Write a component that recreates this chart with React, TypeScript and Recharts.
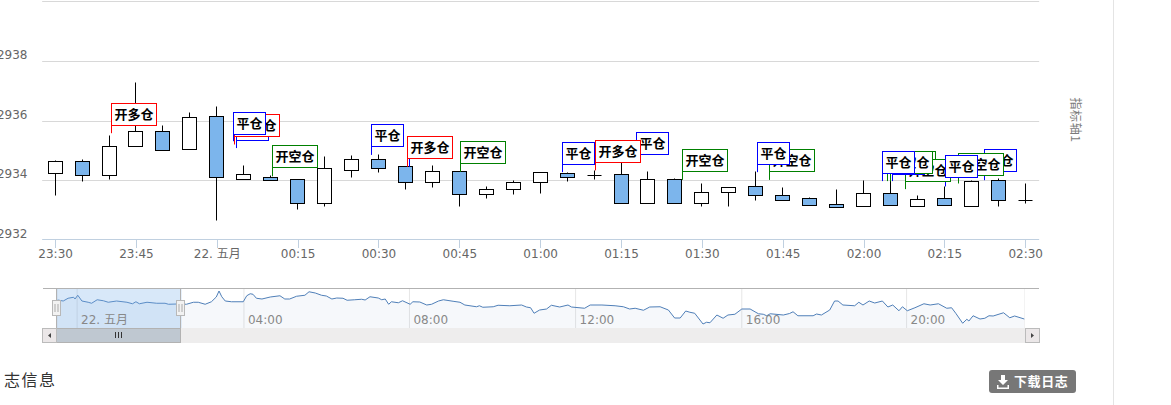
import React from "react";
import {
  Area,
  Bar,
  CartesianGrid,
  ComposedChart,
  ReferenceArea,
  ReferenceDot,
  ReferenceLine,
  XAxis,
  YAxis,
} from "recharts";

// ---- candle data (minutes since 23:30) ----
const candleMinutes = [0, 5, 10, 15, 20, 25, 30, 35, 40, 45, 50, 55, 60, 65, 70, 75, 80, 85, 90, 95, 100, 105, 110, 115, 120, 125, 130, 135, 140, 145, 150, 155, 160, 165, 170, 175, 180];
const opens = [2934.23, 2934.63, 2934.16, 2935.13, 2935.64, 2935.03, 2936.14, 2934.04, 2934.09, 2934.02, 2933.22, 2934.33, 2934.7, 2934.46, 2933.92, 2934.29, 2933.52, 2933.69, 2933.92, 2934.23, 2934.18, 2934.19, 2933.22, 2934.02, 2933.22, 2933.59, 2933.79, 2933.49, 2933.38, 2933.18, 2933.12, 2933.55, 2933.12, 2933.38, 2933.12, 2933.99, 2933.32];
const highs = [2934.66, 2934.7, 2935.51, 2937.29, 2935.84, 2936.29, 2936.49, 2934.5, 2934.16, 2934.02, 2934.81, 2934.84, 2934.87, 2934.46, 2934.5, 2934.29, 2933.79, 2934.0, 2934.26, 2934.26, 2934.34, 2934.59, 2934.3, 2934.06, 2933.89, 2933.77, 2934.3, 2933.75, 2933.42, 2933.7, 2934.0, 2934.17, 2933.49, 2933.8, 2933.99, 2934.06, 2933.89];
const lows = [2933.5, 2933.98, 2934.04, 2935.13, 2935.0, 2935.03, 2932.67, 2934.04, 2934.01, 2933.03, 2933.14, 2934.1, 2934.27, 2933.71, 2933.77, 2933.14, 2933.41, 2933.54, 2933.57, 2933.98, 2934.02, 2933.22, 2933.22, 2933.22, 2933.14, 2933.14, 2933.34, 2933.32, 2933.15, 2933.1, 2933.12, 2933.15, 2933.12, 2933.15, 2933.12, 2933.14, 2933.24];
const closes = [2934.63, 2934.16, 2935.13, 2935.64, 2935.0, 2936.11, 2934.09, 2934.19, 2934.01, 2933.22, 2934.39, 2934.7, 2934.39, 2933.92, 2934.29, 2933.52, 2933.69, 2933.92, 2934.26, 2934.11, 2934.18, 2933.22, 2934.02, 2933.22, 2933.59, 2933.77, 2933.49, 2933.32, 2933.15, 2933.1, 2933.55, 2933.15, 2933.35, 2933.15, 2933.96, 2933.32, 2933.32];

const xTickMinutes = [0, 15, 30, 45, 60, 75, 90, 105, 120, 135, 150, 165, 180];
const xTickLabels = ["23:30", "23:45", "22. 五月", "00:15", "00:30", "00:45", "01:00", "01:15", "01:30", "01:45", "02:00", "02:15", "02:30"];
const yTicks = [2932, 2934, 2936, 2938, 2940];

// ---- trade flags, in drawing order ----
const flagTexts = ["开多仓", "平仓", "开多仓", "平仓", "开空仓", "平仓", "平仓", "开多仓", "开空仓", "平仓", "平仓", "开多仓", "开空仓", "开空仓", "平仓", "开空仓", "开空仓", "平仓", "开空仓", "平仓", "平仓", "开空仓", "平仓"];
const flagMinutes = [10.4, 33.6, 33.2, 33.0, 40.3, 58.6, 65.7, 65.3, 75.2, 94.1, 107.8, 100.2, 116.4, 132.5, 130.3, 155.0, 157.7, 155.3, 154.4, 153.5, 172.4, 167.6, 165.2];
const flagPrices = [2935.59, 2935.09, 2935.21, 2935.32, 2934.14, 2934.86, 2934.46, 2934.46, 2934.29, 2934.28, 2934.64, 2934.34, 2934.02, 2934.02, 2934.28, 2933.97, 2933.71, 2933.98, 2933.98, 2933.98, 2934.01, 2933.9, 2933.8];
const flagLabelPrices = [2935.84, 2935.33, 2935.47, 2935.56, 2934.43, 2935.13, 2934.73, 2934.73, 2934.56, 2934.53, 2934.86, 2934.59, 2934.29, 2934.29, 2934.53, 2934.23, 2933.96, 2934.2, 2934.23, 2934.23, 2934.29, 2934.16, 2934.09];
const flagColors: Record<string, string> = { 开多仓: "#ff0000", 开空仓: "#008000", 平仓: "#0000ff" };

// ---- navigator series ----
const navMinutes = [1, 9, 16, 24, 26, 30, 36, 45, 50, 58, 67, 74, 86, 101, 109, 114, 119, 130, 144, 156, 161, 173, 187, 197, 204, 214, 223, 230, 234, 238, 243, 252, 269, 274, 279, 283, 288, 296, 308, 322, 329, 336, 346, 358, 364, 373, 382, 389, 397, 404, 413, 419, 430, 440, 445, 452, 464, 469, 474, 479, 483, 493, 499, 510, 514, 524, 534, 541, 551, 558, 572, 582, 589, 606, 610, 615, 630, 637, 654, 671, 678, 684, 689, 697, 707, 714, 726, 738, 743, 762, 770, 787, 806, 818, 827, 835, 847, 856, 871, 883, 892, 900, 908, 914, 921, 933, 938, 943, 953, 962, 969, 979, 989, 1001, 1013, 1020, 1025, 1030, 1049, 1058, 1063, 1070, 1092, 1097, 1104, 1116, 1123, 1128, 1135, 1152, 1158, 1164, 1173, 1181, 1192, 1200, 1207, 1216, 1221, 1228, 1239, 1252, 1261, 1273, 1285, 1292, 1298, 1308, 1314, 1317, 1323, 1333, 1340, 1346, 1352, 1367, 1376, 1383, 1397];
const navPrices = [2934.4, 2934.0, 2935.1, 2935.5, 2934.8, 2936.3, 2934.0, 2933.5, 2933.1, 2934.5, 2934.1, 2933.5, 2934.0, 2933.5, 2932.9, 2933.7, 2932.9, 2933.5, 2933.1, 2933.1, 2932.7, 2932.8, 2932.7, 2933.5, 2933.5, 2932.7, 2933.7, 2935.6, 2938.0, 2935.7, 2934.0, 2933.7, 2933.7, 2936.1, 2936.9, 2936.7, 2935.1, 2934.8, 2935.6, 2936.1, 2934.8, 2934.8, 2935.9, 2936.3, 2937.7, 2937.2, 2936.3, 2936.0, 2934.8, 2935.2, 2935.1, 2934.3, 2934.5, 2934.7, 2934.4, 2935.7, 2935.2, 2934.5, 2934.8, 2932.7, 2933.7, 2933.3, 2934.1, 2932.7, 2933.7, 2933.6, 2932.4, 2932.7, 2934.0, 2934.5, 2933.9, 2933.5, 2932.4, 2931.7, 2932.1, 2931.5, 2931.7, 2932.3, 2932.1, 2932.4, 2931.6, 2931.3, 2929.1, 2930.4, 2930.8, 2932.3, 2931.6, 2932.4, 2931.6, 2931.1, 2932.4, 2932.4, 2932.1, 2931.7, 2930.8, 2931.1, 2930.3, 2931.6, 2931.7, 2930.4, 2927.2, 2927.2, 2930.0, 2929.5, 2929.1, 2924.8, 2925.5, 2925.3, 2928.4, 2927.1, 2928.4, 2928.7, 2930.8, 2930.8, 2928.9, 2928.7, 2928.1, 2928.9, 2928.4, 2929.0, 2929.7, 2928.1, 2928.1, 2928.8, 2928.4, 2930.4, 2934.0, 2934.0, 2932.4, 2932.1, 2933.5, 2932.4, 2934.0, 2933.2, 2934.0, 2931.6, 2932.4, 2930.1, 2931.7, 2930.1, 2931.3, 2932.9, 2932.4, 2932.9, 2931.1, 2931.3, 2929.1, 2925.1, 2926.7, 2926.0, 2928.1, 2926.8, 2927.1, 2928.1, 2928.0, 2929.3, 2927.3, 2928.0, 2926.8];
const navTickMinutes = [29, 270, 509, 749, 989, 1227];
const navTickLabels = ["22. 五月", "04:00", "08:00", "12:00", "16:00", "20:00"];

const candleRows = candleMinutes.map((t, i) => ({ t, open: opens[i], high: highs[i], low: lows[i], close: closes[i] }));
const navRows = navMinutes.map((t, i) => ({ t, price: navPrices[i] }));

const AXIS_FONT = "'DejaVu Sans', sans-serif";
const CJK_FONT = "'Noto Sans CJK SC', sans-serif";
const crisp = (v: number) => Math.floor(v) + 0.5;

function Candle(props: any) {
  const { x, y, width, height, payload } = props;
  const { open, high, low, close } = payload;
  const cx = crisp(x + width / 2);
  const py = (p: number) => y + (height * (high - p)) / (high - low);
  const top = crisp(py(Math.max(open, close)));
  const bottom = crisp(py(Math.min(open, close)));
  const wickTop = crisp(y);
  const wickBottom = crisp(y + height);
  const fill = close < open ? "#7cb5ec" : "#ffffff";
  return (
    <g>
      <line x1={cx} x2={cx} y1={wickTop} y2={wickBottom} stroke="#000" strokeWidth={1} />
      {bottom - top < 1 ? (
        <line x1={cx - 7} x2={cx + 7} y1={top} y2={top} stroke="#000" strokeWidth={1} />
      ) : (
        <rect x={cx - 7} y={top} width={14} height={bottom - top} fill={fill} stroke="#000" strokeWidth={1} />
      )}
    </g>
  );
}

function Pole(props: any) {
  const { x1, x2, y1, y2, color } = props;
  return <line x1={crisp(x1)} x2={crisp(x2)} y1={y1} y2={y2} stroke={color} strokeWidth={1} />;
}

function FlagBox(props: any) {
  const { cx, cy, text, color } = props;
  const w = text.length === 3 ? 45 : 32;
  const left = crisp(cx);
  const bottom = crisp(cy);
  return (
    <g>
      <rect x={left} y={bottom - 22} width={w} height={22} fill="#fff" stroke={color} strokeWidth={1} />
      <text x={left + 3} y={bottom - 6.5} fontFamily={CJK_FONT} fontSize={13} fontWeight={700} fill="#000">
        {text}
      </text>
    </g>
  );
}

function GridLine(props: any) {
  const { x1, x2, y1 } = props;
  const y = y1 <= 2 ? 1.5 : Math.floor(y1) + 0.5;
  const isAxis = y1 > 238;
  return <line x1={x1} x2={x2} y1={isAxis ? 239.5 : y} y2={isAxis ? 239.5 : y} stroke={isAxis ? "#c0d0e0" : "#d8d8d8"} strokeWidth={1} />;
}

function XTick(props: any) {
  const { x, payload } = props;
  const i = xTickMinutes.indexOf(payload.value);
  const cx = crisp(x);
  return (
    <g>
      <line x1={cx} x2={cx} y1={240} y2={248} stroke="#c0d0e0" strokeWidth={1} />
      <text x={x} y={257.5} textAnchor="middle" fontFamily={`${AXIS_FONT}, ${CJK_FONT}`} fontSize={12} fill="#666">
        {xTickLabels[i]}
      </text>
    </g>
  );
}

function YTick(props: any) {
  const { y, payload } = props;
  return (
    <text x={27.5} y={y - 2.5} textAnchor="end" fontFamily={AXIS_FONT} fontSize={12} fill="#666">
      {payload.value}
    </text>
  );
}

function NavTick(props: any) {
  const { x, payload } = props;
  const i = navTickMinutes.indexOf(payload.value);
  return (
    <text x={x + 4} y={35} fontFamily={`${AXIS_FONT}, ${CJK_FONT}`} fontSize={12} fill="#888">
      {navTickLabels[i]}
    </text>
  );
}

function MainChart() {
  return (
    <ComposedChart width={1171} height={270} data={candleRows} margin={{ top: 2, right: 131.84, bottom: 0, left: 0.16 }} style={{ position: "absolute", left: 0, top: 0 }}>
      <CartesianGrid vertical={false} horizontal={(p: any) => <GridLine key={p.key ?? p.y1} {...p} />} />
      <XAxis dataKey="t" type="number" domain={[-2.5, 182.5]} ticks={xTickMinutes} height={30} axisLine={false} tickLine={false} tick={<XTick />} interval={0} allowDataOverflow />
      <YAxis type="number" domain={[2932, 2940]} ticks={yTicks} width={42} axisLine={false} tickLine={false} tick={<YTick />} interval={0} allowDataOverflow />
      <Bar dataKey={(d: any) => [d.low, d.high]} barSize={14} shape={<Candle />} isAnimationActive={false} />
      {flagTexts.map((text, i) => (
        <React.Fragment key={i}>
          <ReferenceLine
            segment={[
              { x: flagMinutes[i], y: flagPrices[i] },
              { x: flagMinutes[i], y: flagLabelPrices[i] },
            ]}
            shape={<Pole color={flagColors[text]} />}
          />
          <ReferenceDot x={flagMinutes[i]} y={flagLabelPrices[i]} shape={<FlagBox text={text} color={flagColors[text]} />} />
        </React.Fragment>
      ))}
    </ComposedChart>
  );
}

function NavigatorChart() {
  return (
    <ComposedChart width={968} height={40} data={navRows} margin={{ top: 0, right: 0, bottom: 0, left: 0 }} style={{ position: "absolute", left: 57, top: 289 }}>
      <CartesianGrid horizontal={false} stroke="#e6e6e6" />
      <XAxis dataKey="t" type="number" domain={[0, 1398]} ticks={navTickMinutes} height={1} axisLine={false} tickLine={false} tick={<NavTick />} interval={0} allowDataOverflow />
      <YAxis type="number" domain={[2923.2, 2938.8]} hide allowDataOverflow />
      <Area type="linear" dataKey="price" stroke="#4f7fb8" strokeWidth={1} fill="#4572a7" fillOpacity={0.05} dot={false} activeDot={false} isAnimationActive={false} />
      <ReferenceArea x1={0} x2={180} fill="rgb(120,175,235)" fillOpacity={0.29} stroke="none" />
    </ComposedChart>
  );
}

function Handle({ x }: { x: number }) {
  return (
    <g>
      <rect x={x - 4} y={300.5} width={8} height={15} fill="#f2f2f2" stroke="#b8b8b8" />
      <line x1={x - 1.5} x2={x - 1.5} y1={304} y2={312} stroke="#aaa" />
      <line x1={x + 1.5} x2={x + 1.5} y1={304} y2={312} stroke="#aaa" />
    </g>
  );
}

function Chrome() {
  return (
    <svg width={1171} height={405} style={{ position: "absolute", left: 0, top: 0, pointerEvents: "none" }}>
      <line x1={43} x2={1039} y1={288.5} y2={288.5} stroke="#b2b2b2" />
      <rect x={43} y={328} width={996} height={15} fill="#eeeded" />
      <line x1={56.5} x2={56.5} y1={288.5} y2={328} stroke="#b2b2b2" />
      <line x1={180.5} x2={180.5} y1={288.5} y2={328} stroke="#b2b2b2" />
      <rect x={56.5} y={328.5} width={124} height={14} fill="#bfc8d1" stroke="#b2b2b2" />
      <line x1={115.5} x2={115.5} y1={332} y2={338} stroke="#333" />
      <line x1={118.5} x2={118.5} y1={332} y2={338} stroke="#333" />
      <line x1={121.5} x2={121.5} y1={332} y2={338} stroke="#333" />
      <rect x={42.5} y={328.5} width={14} height={14} fill="#ebe7e8" stroke="#bbb" />
      <polygon points="51,333 51,338 48,335.5" fill="#444" />
      <rect x={1025.5} y={328.5} width={14} height={14} fill="#ebe7e8" stroke="#bbb" />
      <polygon points="1031,333 1031,338 1034,335.5" fill="#444" />
      <Handle x={56.5} />
      <Handle x={180.5} />
      <text x={1070} y={98.5} transform="rotate(90 1071 98.5)" fontFamily={CJK_FONT} fontSize={12} letterSpacing={0.6} fill="#7a7a7a">
        指标轴1
      </text>
      <line x1={1113.5} x2={1113.5} y1={0} y2={405} stroke="#e4e4e4" />
      <text x={4} y={386} fontFamily={CJK_FONT} fontSize={16} letterSpacing={1.5} fill="#333">
        志信息
      </text>
      <rect x={989} y={370} width={87} height={23} rx={3} fill="#777" />
      <path d="M1001 375h4v5h3l-5 5-5-5h3z M997 385h1.5v2.5h9V385h1.5v4h-12z" fill="#fff" />
      <text x={1014} y={386} fontFamily={CJK_FONT} fontSize={13} fontWeight={700} letterSpacing={0.6} fill="#fff">
        下载日志
      </text>
    </svg>
  );
}

export default function App() {
  return (
    <div style={{ position: "absolute", left: 0, top: 0, width: 1171, height: 405, overflow: "hidden", background: "#fff" }}>
      <MainChart />
      <NavigatorChart />
      <Chrome />
    </div>
  );
}
